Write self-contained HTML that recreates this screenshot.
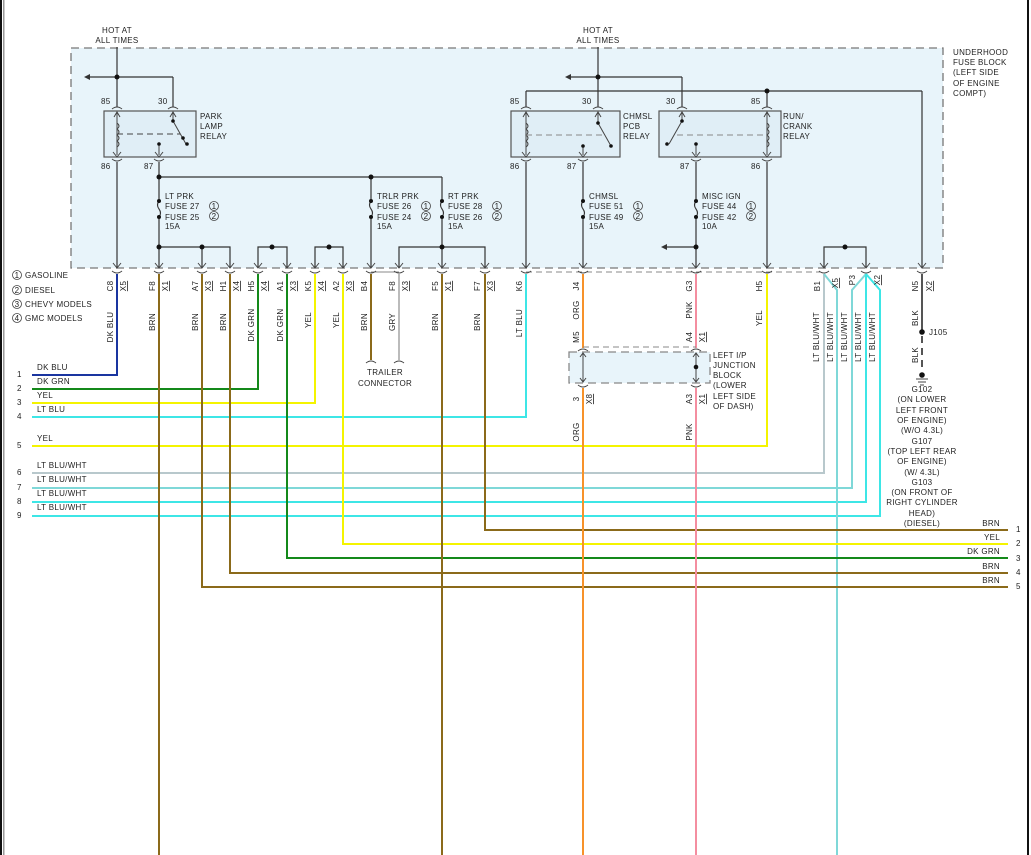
<!DOCTYPE html>
<html><head><meta charset="utf-8"><style>
html,body{margin:0;padding:0;background:#fff;}
svg{display:block;}
text{font-family:"Liberation Sans",sans-serif;font-size:8px;fill:#222;letter-spacing:0.3px;}
</style></head><body>
<svg width="1031" height="855" viewBox="0 0 1031 855" xmlns="http://www.w3.org/2000/svg">
<defs>
<g id="ar"><path d="M-4,-5 L0,0 L4,-5" fill="none" stroke="#444" stroke-width="1"/></g>
<g id="cup"><path d="M-5,3 Q0,-1 5,3" fill="none" stroke="#444" stroke-width="1"/></g>
<g id="cupu"><path d="M-5,-3 Q0,1 5,-3" fill="none" stroke="#444" stroke-width="1"/></g>
</defs>
<!-- frame -->
<rect x="0" y="0" width="2" height="855" fill="#111"/>
<rect x="3" y="0" width="1.5" height="855" fill="#999"/>
<rect x="1027" y="0" width="2" height="855" fill="#111"/>

<!-- fuse block -->
<rect x="71" y="48" width="872" height="220" fill="#e8f4fa" stroke="#777" stroke-width="1.3" stroke-dasharray="8,5"/>
<text x="953" y="55">UNDERHOOD</text><text x="953" y="65">FUSE BLOCK</text><text x="953" y="75">(LEFT SIDE</text><text x="953" y="86">OF ENGINE</text><text x="953" y="96">COMPT)</text>

<g stroke="#333" stroke-width="1.2" fill="none">
<!-- left hot -->
<line x1="117" y1="47" x2="117" y2="107"/>
<line x1="88" y1="77" x2="173" y2="77"/><line x1="173" y1="77" x2="173" y2="107"/>
<!-- right hot -->
<line x1="598" y1="47" x2="598" y2="107"/>
<line x1="569" y1="77" x2="682" y2="77"/><line x1="682" y1="77" x2="682" y2="107"/>
<line x1="526" y1="91" x2="922" y2="91"/><line x1="526" y1="91" x2="526" y2="107"/><line x1="767" y1="91" x2="767" y2="107"/>
<line x1="922" y1="91" x2="922" y2="268"/>
<!-- relay bottoms -->
<line x1="117" y1="162" x2="117" y2="268"/>
<line x1="159" y1="162" x2="159" y2="268"/>
<line x1="159" y1="177" x2="442" y2="177"/>
<line x1="371" y1="177" x2="371" y2="268"/>
<line x1="442" y1="177" x2="442" y2="268"/>
<line x1="526" y1="162" x2="526" y2="268"/>
<line x1="583" y1="162" x2="583" y2="268"/>
<line x1="696" y1="162" x2="696" y2="268"/>
<line x1="767" y1="162" x2="767" y2="268"/>
<line x1="665" y1="247" x2="696" y2="247"/>
<!-- lower buses -->
<polyline points="159,247 230,247 230,268"/><line x1="202" y1="247" x2="202" y2="268"/>
<polyline points="258,268 258,247 287,247 287,268"/>
<polyline points="315,268 315,247 343,247 343,268"/>
<polyline points="399,268 399,247 485,247 485,268"/>
<polyline points="824,268 824,247 866,247 866,268"/>
</g>
<!-- arrows left pointing -->
<path d="M84,77 L90,74 L90,80Z" fill="#333"/>
<path d="M565,77 L571,74 L571,80Z" fill="#333"/>
<path d="M661,247 L667,244 L667,250Z" fill="#333"/>
<!-- dots -->
<g fill="#111">
<circle cx="117" cy="77" r="2.5"/><circle cx="598" cy="77" r="2.5"/><circle cx="767" cy="91" r="2.5"/>
<circle cx="159" cy="177" r="2.5"/><circle cx="371" cy="177" r="2.5"/>
<circle cx="159" cy="247" r="2.5"/><circle cx="202" cy="247" r="2.5"/><circle cx="272" cy="247" r="2.5"/><circle cx="329" cy="247" r="2.5"/><circle cx="442" cy="247" r="2.5"/><circle cx="845" cy="247" r="2.5"/><circle cx="696" cy="247" r="2.5"/>
</g>
<!-- fuses -->
<g stroke="#333" stroke-width="1.2" fill="#e8f4fa">
<rect x="154" y="199" width="10" height="20" stroke="none"/><rect x="366" y="199" width="10" height="20" stroke="none"/><rect x="437" y="199" width="10" height="20" stroke="none"/><rect x="578" y="199" width="10" height="20" stroke="none"/><rect x="691" y="199" width="10" height="20" stroke="none"/>
</g>
<g stroke="#333" stroke-width="1.1" fill="none">
<path d="M159,201 q-3,4 0,8 q3,4 0,8"/><path d="M371,201 q-3,4 0,8 q3,4 0,8"/><path d="M442,201 q-3,4 0,8 q3,4 0,8"/><path d="M583,201 q-3,4 0,8 q3,4 0,8"/><path d="M696,201 q-3,4 0,8 q3,4 0,8"/>
</g>
<g fill="#111"><circle cx="159" cy="201" r="2"/><circle cx="159" cy="217" r="2"/><circle cx="371" cy="201" r="2"/><circle cx="371" cy="217" r="2"/><circle cx="442" cy="201" r="2"/><circle cx="442" cy="217" r="2"/><circle cx="583" cy="201" r="2"/><circle cx="583" cy="217" r="2"/><circle cx="696" cy="201" r="2"/><circle cx="696" cy="217" r="2"/></g>
<g>
<text x="165" y="199">LT PRK</text><text x="165" y="209">FUSE 27</text><text x="165" y="220">FUSE 25</text><text x="165" y="229">15A</text>
<text x="377" y="199">TRLR PRK</text><text x="377" y="209">FUSE 26</text><text x="377" y="220">FUSE 24</text><text x="377" y="229">15A</text>
<text x="448" y="199">RT PRK</text><text x="448" y="209">FUSE 28</text><text x="448" y="220">FUSE 26</text><text x="448" y="229">15A</text>
<text x="589" y="199">CHMSL</text><text x="589" y="209">FUSE 51</text><text x="589" y="220">FUSE 49</text><text x="589" y="229">15A</text>
<text x="702" y="199">MISC IGN</text><text x="702" y="209">FUSE 44</text><text x="702" y="220">FUSE 42</text><text x="702" y="229">10A</text>
</g>
<g fill="none" stroke="#444" stroke-width="0.8">
<circle cx="214" cy="206" r="4.5"/><circle cx="214" cy="216" r="4.5"/><circle cx="426" cy="206" r="4.5"/><circle cx="426" cy="216" r="4.5"/><circle cx="497" cy="206" r="4.5"/><circle cx="497" cy="216" r="4.5"/><circle cx="638" cy="206" r="4.5"/><circle cx="638" cy="216" r="4.5"/><circle cx="751" cy="206" r="4.5"/><circle cx="751" cy="216" r="4.5"/>
</g>
<g style="font-size:7px" text-anchor="middle">
<text x="214" y="209">1</text><text x="214" y="219">2</text><text x="426" y="209">1</text><text x="426" y="219">2</text><text x="497" y="209">1</text><text x="497" y="219">2</text><text x="638" y="209">1</text><text x="638" y="219">2</text><text x="751" y="209">1</text><text x="751" y="219">2</text>
</g>

<!-- hot labels -->
<text x="117" y="33" text-anchor="middle">HOT AT</text><text x="117" y="43" text-anchor="middle">ALL TIMES</text>
<text x="598" y="33" text-anchor="middle">HOT AT</text><text x="598" y="43" text-anchor="middle">ALL TIMES</text>

<!-- relays -->
<g stroke="#555" stroke-width="1.2" fill="#e0eef6">
<rect x="104" y="111" width="92" height="46"/>
<rect x="511" y="111" width="109" height="46"/>
<rect x="659" y="111" width="122" height="46"/>
</g>
<g stroke="#444" stroke-width="1" fill="none">
<!-- park -->
<line x1="117" y1="113" x2="117" y2="155"/><path d="M117,123 q4,3 0,6 q4,3 0,6 q4,3 0,6 q4,3 0,6"/>
<line x1="117" y1="134" x2="180" y2="134" stroke-dasharray="6,4"/>
<line x1="173" y1="113" x2="173" y2="121"/><line x1="173" y1="121" x2="186" y2="144"/>
<line x1="159" y1="144" x2="159" y2="155"/>
<!-- chmsl -->
<line x1="526" y1="113" x2="526" y2="155"/><path d="M526,123 q4,3 0,6 q4,3 0,6 q4,3 0,6 q4,3 0,6"/>
<line x1="526" y1="135" x2="604" y2="135" stroke-dasharray="6,4" stroke="#888"/>
<line x1="598" y1="113" x2="598" y2="123"/><line x1="598" y1="123" x2="611" y2="146"/>
<line x1="583" y1="146" x2="583" y2="155"/>
<!-- run crank -->
<line x1="767" y1="113" x2="767" y2="155"/><path d="M767,123 q4,3 0,6 q4,3 0,6 q4,3 0,6 q4,3 0,6"/>
<line x1="677" y1="135" x2="767" y2="135" stroke-dasharray="6,4" stroke="#888"/>
<line x1="682" y1="113" x2="682" y2="121"/><line x1="682" y1="121" x2="669" y2="144"/>
<line x1="696" y1="144" x2="696" y2="155"/>
</g>
<g fill="#111"><circle cx="173" cy="121" r="1.8"/><circle cx="183" cy="138" r="1.8"/><circle cx="187" cy="144" r="1.8"/><circle cx="159" cy="144" r="1.8"/>
<circle cx="598" cy="123" r="1.8"/><circle cx="611" cy="146" r="1.8"/><circle cx="583" cy="146" r="1.8"/>
<circle cx="682" cy="121" r="1.8"/><circle cx="667" cy="144" r="1.8"/><circle cx="696" cy="144" r="1.8"/></g>
<!-- relay pin arrows/cups -->
<g>
<use href="#ar" x="117" y="157" transform=""/><use href="#ar" x="159" y="157"/><use href="#ar" x="526" y="157"/><use href="#ar" x="583" y="157"/><use href="#ar" x="696" y="157"/><use href="#ar" x="767" y="157"/>
<use href="#cupu" x="117" y="162"/><use href="#cupu" x="159" y="162"/><use href="#cupu" x="526" y="162"/><use href="#cupu" x="583" y="162"/><use href="#cupu" x="696" y="162"/><use href="#cupu" x="767" y="162"/>
<use href="#cup" x="117" y="106"/><use href="#cup" x="173" y="106"/><use href="#cup" x="526" y="106"/><use href="#cup" x="598" y="106"/><use href="#cup" x="682" y="106"/><use href="#cup" x="767" y="106"/>
</g>
<g stroke="#444" stroke-width="1" fill="none">
<path d="M114,117 L117,112 L120,117"/><path d="M170,117 L173,112 L176,117"/><path d="M523,117 L526,112 L529,117"/><path d="M595,117 L598,112 L601,117"/><path d="M679,117 L682,112 L685,117"/><path d="M764,117 L767,112 L770,117"/>
</g>
<text x="101" y="104">85</text><text x="158" y="104">30</text><text x="101" y="169">86</text><text x="144" y="169">87</text>
<text x="510" y="104">85</text><text x="582" y="104">30</text><text x="510" y="169">86</text><text x="567" y="169">87</text>
<text x="666" y="104">30</text><text x="751" y="104">85</text><text x="680" y="169">87</text><text x="751" y="169">86</text>
<text x="200" y="119">PARK</text><text x="200" y="129">LAMP</text><text x="200" y="139">RELAY</text>
<text x="623" y="119">CHMSL</text><text x="623" y="129">PCB</text><text x="623" y="139">RELAY</text>
<text x="783" y="119">RUN/</text><text x="783" y="129">CRANK</text><text x="783" y="139">RELAY</text>

<!-- connector dashed line -->
<line x1="526" y1="272" x2="820" y2="272" stroke="#888" stroke-width="1" stroke-dasharray="6,4"/>
<line x1="371" y1="272" x2="399" y2="272" stroke="#888" stroke-width="1"/>
<!-- connector arrows at block bottom -->
<g>
<use href="#ar" x="117" y="268"/><use href="#ar" x="159" y="268"/><use href="#ar" x="202" y="268"/><use href="#ar" x="230" y="268"/><use href="#ar" x="258" y="268"/><use href="#ar" x="287" y="268"/><use href="#ar" x="315" y="268"/><use href="#ar" x="343" y="268"/><use href="#ar" x="371" y="268"/><use href="#ar" x="399" y="268"/><use href="#ar" x="442" y="268"/><use href="#ar" x="485" y="268"/><use href="#ar" x="526" y="268"/><use href="#ar" x="583" y="268"/><use href="#ar" x="696" y="268"/><use href="#ar" x="767" y="268"/><use href="#ar" x="824" y="268"/><use href="#ar" x="866" y="268"/><use href="#ar" x="922" y="268"/>
<use href="#cupu" x="117" y="274"/><use href="#cupu" x="159" y="274"/><use href="#cupu" x="202" y="274"/><use href="#cupu" x="230" y="274"/><use href="#cupu" x="258" y="274"/><use href="#cupu" x="287" y="274"/><use href="#cupu" x="315" y="274"/><use href="#cupu" x="343" y="274"/><use href="#cupu" x="371" y="274"/><use href="#cupu" x="399" y="274"/><use href="#cupu" x="442" y="274"/><use href="#cupu" x="485" y="274"/><use href="#cupu" x="526" y="274"/><use href="#cupu" x="583" y="274"/><use href="#cupu" x="696" y="274"/><use href="#cupu" x="767" y="274"/><use href="#cupu" x="824" y="274"/><use href="#cupu" x="866" y="274"/><use href="#cupu" x="922" y="274"/>
</g>

<!-- wires -->
<g fill="none" stroke-width="2">
<polyline points="32,375 117,375 117,274" stroke="#1a35a0"/>
<polyline points="32,389 258,389 258,274" stroke="#14891a"/>
<polyline points="32,403 315,403 315,274" stroke="#f4f400"/>
<polyline points="32,417 526,417 526,274" stroke="#3de6e6"/>
<polyline points="32,446 767,446 767,274" stroke="#f4f400"/>
<polyline points="32,473 824,473 824,274" stroke="#b8c8cc"/>
<polyline points="32,488 852,488 852,290 866,274" stroke="#7fd8d8"/>
<polyline points="32,502 866,502 866,274" stroke="#3de6e6"/>
<polyline points="32,516 880,516 880,290 866,274" stroke="#3de6e6"/>
<polyline points="824,274 837,290 837,855" stroke="#7fd8d8"/>
<polyline points="1008,530 485,530 485,274" stroke="#8b6a1a"/>
<polyline points="1008,544 343,544 343,274" stroke="#f4f400"/>
<polyline points="1008,558 287,558 287,274" stroke="#14891a"/>
<polyline points="1008,573 230,573 230,274" stroke="#8b6a1a"/>
<polyline points="1008,587 202,587 202,274" stroke="#8b6a1a"/>
<line x1="159" y1="274" x2="159" y2="855" stroke="#8b6a1a"/>
<line x1="442" y1="274" x2="442" y2="855" stroke="#8b6a1a"/>
<line x1="371" y1="274" x2="371" y2="360" stroke="#8b6a1a"/>
<line x1="399" y1="274" x2="399" y2="360" stroke="#bbbbbb"/>
<line x1="583" y1="274" x2="583" y2="348" stroke="#f7922a"/>
<line x1="583" y1="388" x2="583" y2="855" stroke="#f7922a"/>
<line x1="696" y1="274" x2="696" y2="348" stroke="#f48ea0"/>
<line x1="696" y1="388" x2="696" y2="855" stroke="#f48ea0"/>
<line x1="922" y1="274" x2="922" y2="330" stroke="#555"/>
</g>
<g stroke="#444" fill="none" stroke-width="1">
<path d="M366,363 Q371,359 376,363"/><path d="M394,363 Q399,359 404,363"/>
</g>
<text x="385" y="375" text-anchor="middle">TRAILER</text><text x="385" y="386" text-anchor="middle">CONNECTOR</text>

<!-- junction block -->
<line x1="583" y1="347" x2="696" y2="347" stroke="#888" stroke-dasharray="6,4"/>
<rect x="569" y="352" width="141" height="31" fill="#e8f4fa" stroke="#888" stroke-width="1.3" stroke-dasharray="8,5"/>
<g stroke="#444" fill="none" stroke-width="1">
<line x1="583" y1="353" x2="583" y2="382"/><line x1="696" y1="353" x2="696" y2="382"/>
<path d="M580,357 L583,353 L586,357"/><path d="M580,378 L583,382 L586,378"/><path d="M693,357 L696,353 L699,357"/><path d="M693,378 L696,382 L699,378"/>
<path d="M578,351 Q583,347 588,351"/><path d="M691,351 Q696,347 701,351"/>
<path d="M578,385 Q583,389 588,385"/><path d="M691,385 Q696,389 701,385"/>
</g>
<circle cx="696" cy="367" r="2.3" fill="#111"/>
<text x="713" y="358">LEFT I/P</text><text x="713" y="368">JUNCTION</text><text x="713" y="378">BLOCK</text><text x="713" y="388">(LOWER</text><text x="713" y="399">LEFT SIDE</text><text x="713" y="409">OF DASH)</text>

<!-- ground -->
<line x1="922" y1="336" x2="922" y2="372" stroke="#555" stroke-width="2" stroke-dasharray="7,5"/>
<circle cx="922" cy="332" r="2.8" fill="#111"/><text x="929" y="335">J105</text>
<circle cx="922" cy="375" r="2.8" fill="#111"/>
<g stroke="#444" stroke-width="1"><line x1="916" y1="379" x2="928" y2="379"/><line x1="918" y1="382" x2="926" y2="382"/><line x1="920" y1="385" x2="924" y2="385"/></g>
<g text-anchor="middle">
<text x="922" y="392">G102</text><text x="922" y="402">(ON LOWER</text><text x="922" y="413">LEFT FRONT</text><text x="922" y="423">OF ENGINE)</text><text x="922" y="433">(W/O 4.3L)</text>
<text x="922" y="444">G107</text><text x="922" y="454">(TOP LEFT REAR</text><text x="922" y="464">OF ENGINE)</text><text x="922" y="475">(W/ 4.3L)</text>
<text x="922" y="485">G103</text><text x="922" y="495">(ON FRONT OF</text><text x="922" y="505">RIGHT CYLINDER</text><text x="922" y="516">HEAD)</text><text x="922" y="526">(DIESEL)</text>
</g>

<!-- legend -->
<g fill="none" stroke="#444" stroke-width="0.8"><circle cx="17" cy="275" r="4.5"/><circle cx="17" cy="290" r="4.5"/><circle cx="17" cy="304" r="4.5"/><circle cx="17" cy="318" r="4.5"/></g>
<g style="font-size:7px" text-anchor="middle"><text x="17" y="278">1</text><text x="17" y="293">2</text><text x="17" y="307">3</text><text x="17" y="321">4</text></g>
<text x="25" y="278">GASOLINE</text><text x="25" y="293">DIESEL</text><text x="25" y="307">CHEVY MODELS</text><text x="25" y="321">GMC MODELS</text>

<!-- left wire labels -->
<text x="37" y="370">DK BLU</text><text x="37" y="384">DK GRN</text><text x="37" y="398">YEL</text><text x="37" y="412">LT BLU</text><text x="37" y="441">YEL</text>
<text x="37" y="468">LT BLU/WHT</text><text x="37" y="482">LT BLU/WHT</text><text x="37" y="496">LT BLU/WHT</text><text x="37" y="510">LT BLU/WHT</text>
<text x="17" y="377">1</text><text x="17" y="391">2</text><text x="17" y="405">3</text><text x="17" y="419">4</text><text x="17" y="448">5</text><text x="17" y="475">6</text><text x="17" y="490">7</text><text x="17" y="504">8</text><text x="17" y="518">9</text>
<!-- right labels -->
<g text-anchor="end"><text x="1000" y="526">BRN</text><text x="1000" y="540">YEL</text><text x="1000" y="554">DK GRN</text><text x="1000" y="569">BRN</text><text x="1000" y="583">BRN</text></g>
<text x="1016" y="532">1</text><text x="1016" y="546">2</text><text x="1016" y="561">3</text><text x="1016" y="575">4</text><text x="1016" y="589">5</text>

<!-- rotated pin labels -->
<g text-anchor="middle">
<text transform="translate(113,286) rotate(-90)">C8</text><text transform="translate(126,286) rotate(-90)" text-decoration="underline">X5</text><text transform="translate(113,327) rotate(-90)">DK BLU</text>
<text transform="translate(155,286) rotate(-90)">F8</text><text transform="translate(168,286) rotate(-90)" text-decoration="underline">X1</text><text transform="translate(155,322) rotate(-90)">BRN</text>
<text transform="translate(198,286) rotate(-90)">A7</text><text transform="translate(211,286) rotate(-90)" text-decoration="underline">X3</text><text transform="translate(198,322) rotate(-90)">BRN</text>
<text transform="translate(226,286) rotate(-90)">H1</text><text transform="translate(239,286) rotate(-90)" text-decoration="underline">X4</text><text transform="translate(226,322) rotate(-90)">BRN</text>
<text transform="translate(254,286) rotate(-90)">H5</text><text transform="translate(267,286) rotate(-90)" text-decoration="underline">X4</text><text transform="translate(254,325) rotate(-90)">DK GRN</text>
<text transform="translate(283,286) rotate(-90)">A1</text><text transform="translate(296,286) rotate(-90)" text-decoration="underline">X3</text><text transform="translate(283,325) rotate(-90)">DK GRN</text>
<text transform="translate(311,286) rotate(-90)">K5</text><text transform="translate(324,286) rotate(-90)" text-decoration="underline">X4</text><text transform="translate(311,320) rotate(-90)">YEL</text>
<text transform="translate(339,286) rotate(-90)">A2</text><text transform="translate(352,286) rotate(-90)" text-decoration="underline">X3</text><text transform="translate(339,320) rotate(-90)">YEL</text>
<text transform="translate(367,286) rotate(-90)">B4</text><text transform="translate(367,322) rotate(-90)">BRN</text>
<text transform="translate(395,286) rotate(-90)">F8</text><text transform="translate(408,286) rotate(-90)" text-decoration="underline">X3</text><text transform="translate(395,322) rotate(-90)">GRY</text>
<text transform="translate(438,286) rotate(-90)">F5</text><text transform="translate(451,286) rotate(-90)" text-decoration="underline">X1</text><text transform="translate(438,322) rotate(-90)">BRN</text>
<text transform="translate(480,286) rotate(-90)">F7</text><text transform="translate(493,286) rotate(-90)" text-decoration="underline">X3</text><text transform="translate(480,322) rotate(-90)">BRN</text>
<text transform="translate(522,286) rotate(-90)">K6</text><text transform="translate(522,323) rotate(-90)">LT BLU</text>
<text transform="translate(579,286) rotate(-90)">J4</text><text transform="translate(579,310) rotate(-90)">ORG</text><text transform="translate(579,337) rotate(-90)">M5</text>
<text transform="translate(579,399) rotate(-90)">3</text><text transform="translate(592,399) rotate(-90)" text-decoration="underline">X8</text><text transform="translate(579,432) rotate(-90)">ORG</text>
<text transform="translate(692,286) rotate(-90)">G3</text><text transform="translate(692,310) rotate(-90)">PNK</text><text transform="translate(692,337) rotate(-90)">A4</text><text transform="translate(705,337) rotate(-90)" text-decoration="underline">X1</text>
<text transform="translate(692,399) rotate(-90)">A3</text><text transform="translate(705,399) rotate(-90)" text-decoration="underline">X1</text><text transform="translate(692,432) rotate(-90)">PNK</text>
<text transform="translate(762,286) rotate(-90)">H5</text><text transform="translate(762,318) rotate(-90)">YEL</text>
<text transform="translate(820,286) rotate(-90)">B1</text><text transform="translate(838,283) rotate(-90)" text-decoration="underline">X5</text>
<text transform="translate(855,280) rotate(-90)">P3</text><text transform="translate(880,280) rotate(-90)" text-decoration="underline">X2</text>
<text transform="translate(819,337) rotate(-90)">LT BLU/WHT</text><text transform="translate(833,337) rotate(-90)">LT BLU/WHT</text><text transform="translate(847,337) rotate(-90)">LT BLU/WHT</text><text transform="translate(861,337) rotate(-90)">LT BLU/WHT</text><text transform="translate(875,337) rotate(-90)">LT BLU/WHT</text>
<text transform="translate(918,286) rotate(-90)">N5</text><text transform="translate(932,286) rotate(-90)" text-decoration="underline">X2</text>
<text transform="translate(918,318) rotate(-90)">BLK</text><text transform="translate(918,355) rotate(-90)">BLK</text>
</g>
</svg>
</body></html>
